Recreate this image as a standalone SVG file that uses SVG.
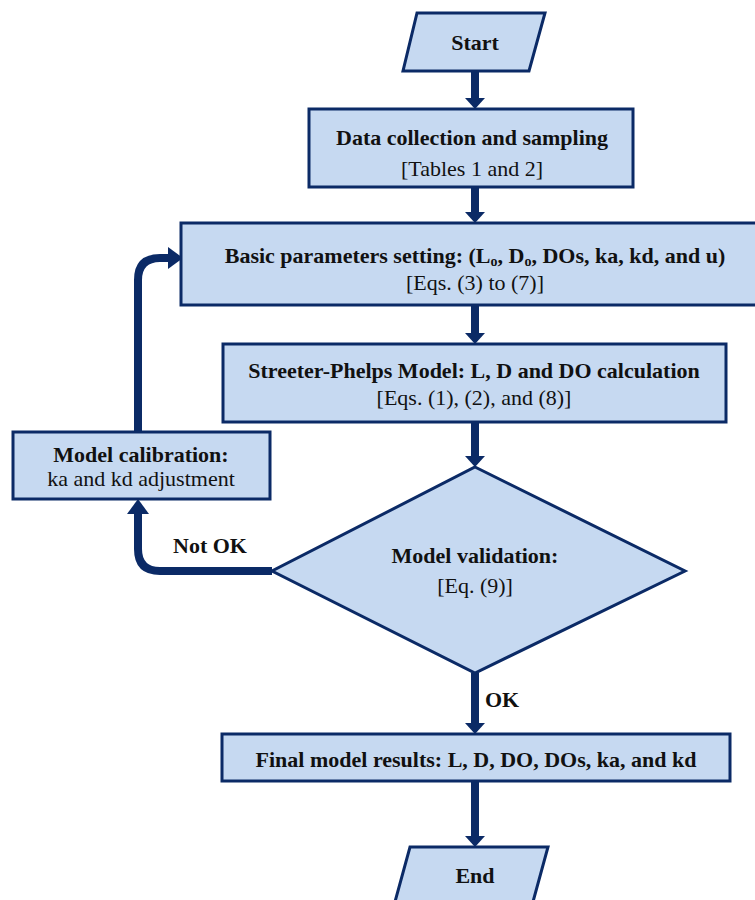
<svg xmlns="http://www.w3.org/2000/svg" width="755" height="900" viewBox="0 0 755 900">
<defs>
<style>
.node{fill:#C6D9F1;stroke:#0B2A66;stroke-width:3;stroke-linejoin:miter}
.b{font-family:"Liberation Serif","Times New Roman",serif;font-weight:bold;font-size:22px;fill:#111;text-anchor:middle}
.r{font-family:"Liberation Serif","Times New Roman",serif;font-size:22px;fill:#111;text-anchor:middle}
.c{fill:none;stroke:#0B2A66;stroke-width:8}
.sub{font-size:14px}
</style>
<marker id="ah" markerUnits="userSpaceOnUse" viewBox="0 0 11 20" markerWidth="11" markerHeight="20" refX="0" refY="10" orient="auto">
<path d="M0,0 L11,10 L0,20 Z" fill="#0B2A66"/>
</marker>
<marker id="ahb" markerUnits="userSpaceOnUse" viewBox="0 0 15 22" markerWidth="15" markerHeight="22" refX="0" refY="11" orient="auto">
<path d="M0,0 L15,11 L0,22 Z" fill="#0B2A66"/>
</marker>
</defs>
<rect width="755" height="900" fill="#fff"/>
<g id="connectors">
<path class="c" d="M475,71 V98" marker-end="url(#ah)"/>
<path class="c" d="M475,187 V212" marker-end="url(#ah)"/>
<path class="c" d="M475,305 V333" marker-end="url(#ah)"/>
<path class="c" d="M475,422 V456" marker-end="url(#ah)"/>
<path class="c" d="M475,673 V723" marker-end="url(#ah)"/>
<path class="c" d="M475,781 V836" marker-end="url(#ah)"/>
<path class="c" d="M272,571 H160 Q138,571 138,549 V514" marker-end="url(#ahb)"/>
<path class="c" d="M138,432 V280 Q138,258 160,258 H168" marker-end="url(#ahb)"/>
<text class="b" x="210" y="553">Not OK</text>
<text class="b" x="502" y="707">OK</text>
</g>
<g id="start">
<polygon class="node" points="417,13 545,13 529,71 403,71"/>
<text class="b" x="475" y="50">Start</text>
</g>
<g id="data">
<rect class="node" x="309" y="109" width="324" height="78"/>
<text class="b" x="472" y="145">Data collection and sampling</text>
<text class="r" x="472" y="176">[Tables 1 and 2]</text>
</g>
<g id="basic">
<rect class="node" x="181" y="223" width="590" height="82"/>
<text class="b" x="475" y="263">Basic parameters setting: (L<tspan class="sub" dy="3">o</tspan><tspan dy="-3">, D</tspan><tspan class="sub" dy="3">o</tspan><tspan dy="-3">, DOs, ka, kd, and u)</tspan></text>
<text class="r" x="475" y="290">[Eqs. (3) to (7)]</text>
</g>
<g id="streeter">
<rect class="node" x="223" y="344" width="503" height="78"/>
<text class="b" x="474" y="378">Streeter-Phelps Model: L, D and DO calculation</text>
<text class="r" x="474" y="405">[Eqs. (1), (2), and (8)]</text>
</g>
<g id="calibration">
<rect class="node" x="13" y="432" width="257" height="67"/>
<text class="b" x="141" y="462">Model calibration:</text>
<text class="r" x="141" y="486">ka and kd adjustment</text>
</g>
<g id="validation">
<polygon class="node" points="475,467 685,571 475,673 272,571"/>
<text class="b" x="475" y="563">Model validation:</text>
<text class="r" x="475" y="593">[Eq. (9)]</text>
</g>
<g id="final">
<rect class="node" x="222" y="734" width="508" height="47"/>
<text class="b" x="476" y="767">Final model results: L, D, DO, DOs, ka, and kd</text>
</g>
<g id="end">
<polygon class="node" points="410,847 548,847 528,920 390,920"/>
<text class="b" x="475" y="883">End</text>
</g>
</svg>
